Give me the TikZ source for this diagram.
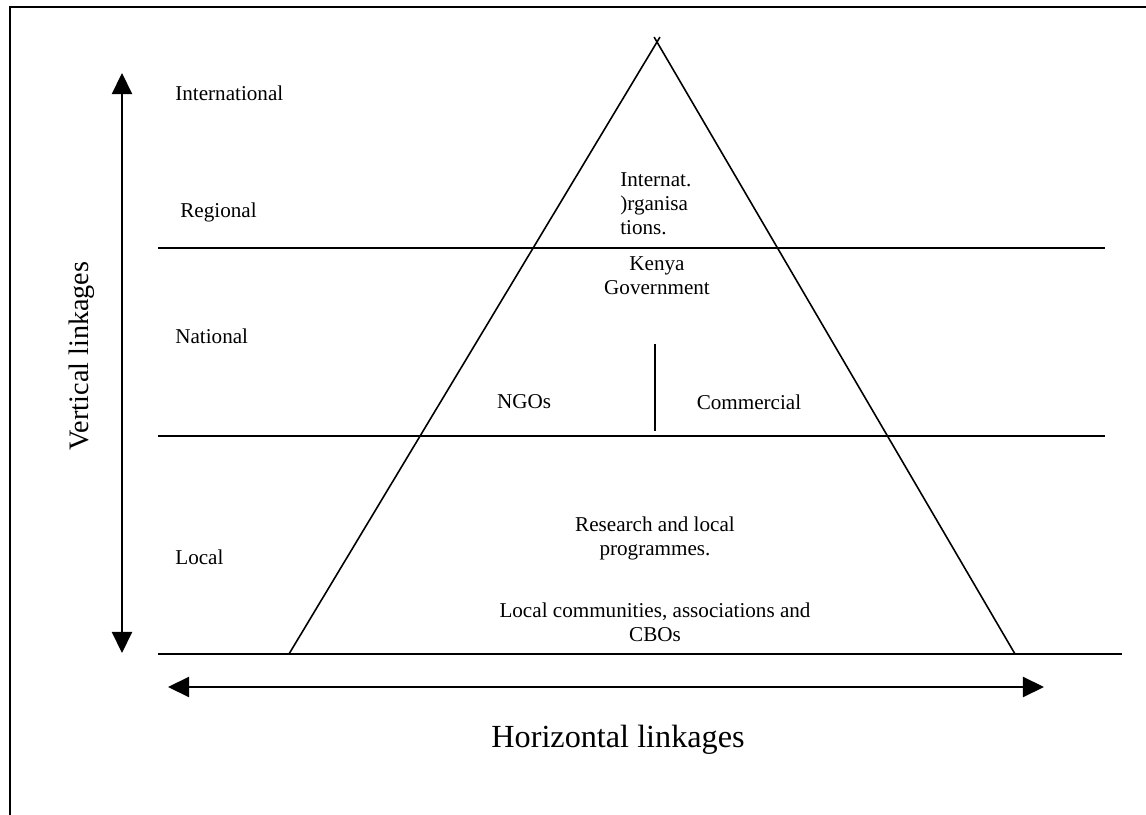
\documentclass[tikz,border=0pt]{standalone}
\usepackage{fontspec}
\setmainfont{Liberation Serif}
\usetikzlibrary{arrows.meta,calc}
\begin{document}
\begin{tikzpicture}[x=0.568pt,y=-0.568pt,
  lbl/.style={inner sep=0pt,font=\fontsize{12}{13.6}\selectfont},
  big/.style={inner sep=0pt,font=\fontsize{16}{19}\selectfont},
  bigger/.style={inner sep=0pt,font=\fontsize{18.3}{21}\selectfont},
  ln/.style={line width=0.9pt},
  arr/.style={line width=0.9pt,{Triangle[length=12pt,width=11.5pt]}-{Triangle[length=12pt,width=11.5pt]}}]
\useasboundingbox (0,0) rectangle (1146,815);
% frame (top and left)
\draw[line width=1.4pt] (10,815) -- (10,7) -- (1146,7);
% level lines
\coordinate (l1a) at (158,248); \coordinate (l1b) at (1105,248);
\coordinate (l2a) at (158,436); \coordinate (l2b) at (1105,436);
\coordinate (l3a) at (158,654); \coordinate (l3b) at (1122,654);
\draw[ln] (l1a) -- (l1b);
\draw[ln] (l2a) -- (l2b);
\draw[ln] (l3a) -- (l3b);
% triangle
\coordinate (apex) at (657,42);
\coordinate (bl) at (289,654);
\coordinate (br) at (1015,654);
\draw[ln] ($(apex)!-0.008!(bl)$) -- (bl);
\draw[ln] ($(apex)!-0.008!(br)$) -- (br);
% separator
\coordinate (s1) at (655,344); \coordinate (s2) at (655,431);
\draw[ln] (s1) -- (s2);
% arrows
\coordinate (vt) at (122,73); \coordinate (vb) at (122,653);
\draw[arr] (vb) -- (vt);
\coordinate (hl) at (168,687); \coordinate (hr) at (1044,687);
\draw[arr] (hl) -- (hr);
% level labels
\node[lbl,anchor=west] (intl) at (175,93) {International};
\node[lbl,anchor=west] (reg) at (180,212) {Regional};
\node[lbl,anchor=west] (nat) at (175,336) {National};
\node[lbl,anchor=west] (loc) at (175,557) {Local};
% pyramid labels
\node[lbl,anchor=west,align=left] (io) at (620,204) {Internat.\\)rganisa\\tions.};
\node[lbl,align=center] (kg) at (657,276) {Kenya\\Government};
\node[lbl] (ngo) at (524,402) {NGOs};
\node[lbl] (com) at (749,402) {Commercial};
\node[lbl,align=center] (res) at (655,538) {Research and local\\programmes.};
\node[lbl,align=center] (lc) at (655,622) {Local communities, associations and\\CBOs};
% axis labels
\node[big,rotate=90] (vl) at (82,356) {Vertical linkages};
\node[bigger] (hlab) at (618,740) {Horizontal linkages};
\end{tikzpicture}
\end{document}
